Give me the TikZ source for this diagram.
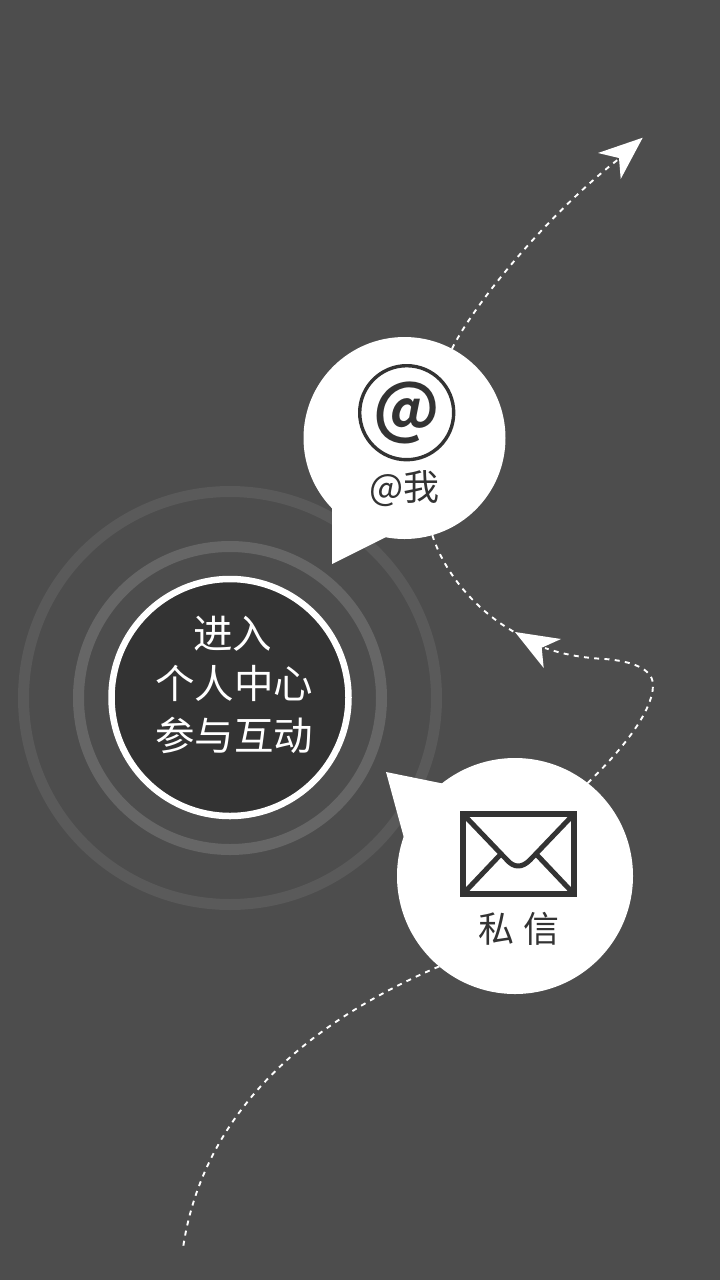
\documentclass[tikz,border=0pt]{standalone}
\usepackage{fontspec}
\setmainfont{Noto Sans CJK SC}
\newfontfamily\cjkbold{Noto Sans CJK SC Bold}
\definecolor{bgc}{HTML}{4D4D4D}
\definecolor{ink}{HTML}{333333}
\definecolor{ringa}{HTML}{5A5A5A}
\definecolor{ringb}{HTML}{666666}
\tikzset{
  ringnode/.style={circle,inner sep=0pt,outer sep=0pt,draw,fill=none,line width=11pt},
  bubble/.style={circle,inner sep=0pt,outer sep=0pt,fill=white},
  flow/.style={draw=white,line width=1.9pt,dash pattern=on 5pt off 5.3pt},
  head/.style={fill=white,draw=none},
  lbl/.style={inner sep=0pt,outer sep=0pt,text=ink,align=center},
  hub/.style={inner sep=0pt,outer sep=0pt,text=white,font=\fontsize{39.5}{39.5}\selectfont}
}
\begin{document}
\begin{tikzpicture}[x=1pt,y=-1pt]
\useasboundingbox (0,0) rectangle (720,1280);
\fill[bgc] (0,0) rectangle (720,1280);
% rings
\node[ringnode,draw=ringa,minimum size=413pt] (outer) at (230,698) {};
\node[ringnode,draw=ringb,minimum size=303pt] (middle) at (230,698) {};
\node[circle,inner sep=0pt,outer sep=0pt,fill=ink,draw=white,line width=6.5pt,minimum size=237pt] (hubc) at (230,697.5) {};
\node[hub] (t1) at (232.5,634) {进入};
\node[hub] (t2) at (234,683) {个人中心};
\node[hub] (t3) at (234,735) {参与互动};
% free ends and arrowheads
\coordinate (a1tip) at (620,158);
\coordinate (a2tip) at (516,633);
\coordinate (a3tip) at (545,648);
\coordinate (a4end) at (183,1248);
\fill[head] (642.7,137.7) -- (598,153) -- (619,158) -- (620.7,179) -- cycle;
\fill[head] (515,632) -- (561,639) -- (541.7,647.7) -- (543.7,668) -- cycle;
% bubbles
\node[bubble,minimum size=202pt] (atb) at (404.5,438) {};
\fill[white] (332,505) -- (332,564) -- (386,537) -- cycle;
\node[bubble,minimum size=236pt] (mailb) at (515,876) {};
\fill[white] (386,772) -- (445,784) -- (404,838) -- cycle;
% connectors
\draw[flow] (atb.62.7) .. controls (478,297) and (555,208) .. (a1tip);
\draw[flow] (atb.-74.5) .. controls (445,575) and (478,612) .. (a2tip);
\draw[flow] (mailb.52) .. controls (620,752) and (653,712) .. (653,685)
   .. controls (653,668) and (630,661) .. (605,659)
   .. controls (585,658) and (565,655) .. (a3tip);
\draw[flow] (mailb.230.8) .. controls (325,1015) and (205,1100) .. (a4end);
% at sign
\node[circle,inner sep=0pt,outer sep=0pt,draw=ink,line width=3.4pt,minimum size=94pt] (atring) at (406.7,412.7) {};
\node[lbl,font=\cjkbold\fontsize{66}{66}\selectfont] (atglyph) at (407,413) {@};
\node[lbl,font=\fontsize{36}{36}\selectfont] (atl) at (404.5,489) {@我};
% envelope
\node[draw=ink,line width=6pt,inner sep=0pt,outer sep=0pt,minimum width=111pt,minimum height=80pt] (env) at (518.5,854) {};
\draw[ink,line width=5pt,line join=round] (env.north west) -- (507,860) .. controls (514,868) and (522,868) .. (530,860) -- (env.north east);
\draw[ink,line width=5pt] (env.south west) -- (500,855);
\draw[ink,line width=5pt] (env.south east) -- (537,855);
\node[lbl,font=\fontsize{36}{36}\selectfont] (mail) at (519,929) {私 信};
\end{tikzpicture}
\end{document}
